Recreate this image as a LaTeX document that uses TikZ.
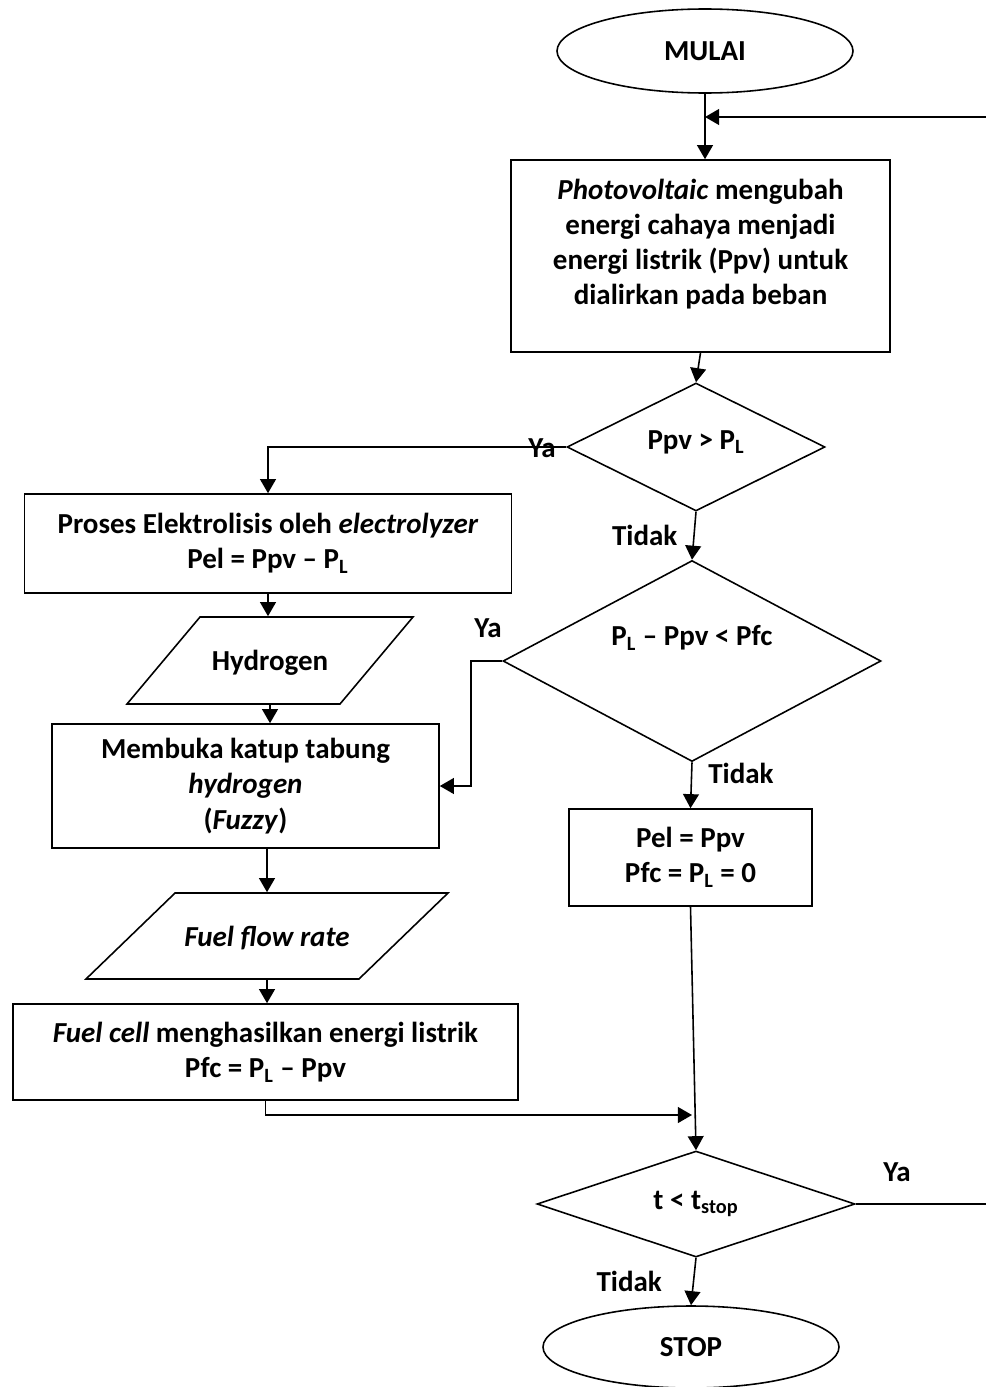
\documentclass[tikz,border=0pt]{standalone}
\usepackage{fontspec}
\setmainfont{Carlito}
\usetikzlibrary{shapes.geometric}
\usetikzlibrary{arrows.meta}

\tikzset{
    terminal/.style={draw, ellipse, inner sep=0pt},
    proses/.style={draw, rectangle, align=center},
    keputusan/.style={draw, diamond, aspect=2, inner sep=1pt, align=center},
    data/.style={draw, trapezium, trapezium stretches body, inner xsep=0pt,
	text height=0.5cm, text depth=0.1cm},
}

\begin{document}
\begin{tikzpicture}[>={Triangle[length=8pt,width=9pt]}, line width=0.9pt,
    every node/.style={font=\fontsize{16.5}{20}\selectfont\bfseries}]
    \useasboundingbox (0, 0) rectangle (19.72, -27.74);

    \path (14.10, -1.02) node [terminal, minimum width=5.92cm, minimum height=1.68cm] (mulai) {MULAI};
    \path (14.01, -5.12) node [proses, minimum width=7.58cm, minimum height=3.84cm] (pv)
	{\textit{Photovoltaic} mengubah\\ energi cahaya menjadi\\ energi listrik (Ppv) untuk\\ dialirkan pada beban\\[-4pt]\mbox{}};
    \draw [->] (mulai) -- (mulai |- pv.north);
    \coordinate (balik) at (14.10, -2.34);
    \coordinate (kanan) at (19.80, -2.34);

    \path (13.92, -8.94) node [keputusan, minimum width=5.16cm, minimum height=2.56cm] (cek1)
	{Ppv > P\textsubscript{L}\\[-12pt]\mbox{}};
    \draw [->] (pv.south) -- (cek1.north);
    \path (5.36, -10.87) node [proses, minimum width=9.74cm, minimum height=1.98cm] (el)
	{Proses Elektrolisis oleh \textit{electrolyzer}\\ Pel = Ppv – P\textsubscript{L}};
    \draw [->] (cek1.west) -| (el.north);
    \path (10.84, -8.96) node (ya1) {Ya};

    \path (5.40, -13.21) node [data, inner ysep=0.57cm, trapezium left angle=50,
	trapezium right angle=130, minimum width=5.72cm] (hy) {Hydrogen};
    \draw [->] (el.south) -- (el.south |- hy.north);
    \path (4.91, -15.72) node [proses, minimum width=7.74cm, minimum height=2.48cm] (katup)
	{Membuka katup tabung\\ \textit{hydrogen}\\ (\textit{Fuzzy})};
    \draw [->] (hy.south) -- (hy.south |- katup.north);
    \path (5.34, -18.72) node [data, inner ysep=0.56cm, trapezium left angle=44,
	trapezium right angle=136, minimum width=7.24cm] (ffr) {\textit{Fuel flow rate}};
    \draw [->] (katup.south -| ffr.north) -- (ffr.north);
    \path (5.31, -21.04) node [proses, minimum width=10.10cm, minimum height=1.92cm] (fc)
	{\textit{Fuel cell} menghasilkan energi listrik\\ Pfc = P\textsubscript{L} – Ppv};
    \draw [->] (ffr.south) -- (ffr.south |- fc.north);

    \path (13.84, -13.22) node [keputusan, minimum width=7.56cm, minimum height=4.02cm] (cek2)
	{P\textsubscript{L} – Ppv < Pfc\\[9pt]\mbox{}};
    \draw [->] (cek1.south) -- (cek2.north) node [midway,left=0.2cm] (tidak1) {Tidak};
    \draw [->] (cek2.west) -- ++(-0.62, 0) |- (katup.east);
    \path (9.76, -12.56) node (ya2) {Ya};
    \path (13.81, -17.15) node [proses, minimum width=4.86cm, minimum height=1.94cm] (nol)
	{Pel = Ppv\\ Pfc = P\textsubscript{L} = 0};
    \draw [->] (cek2.south) -- (nol.north) node [pos=0.25,right=0.2cm] (tidak2) {Tidak};

    \path (13.92, -24.08) node [keputusan, minimum width=6.36cm, minimum height=2.12cm] (cek3)
	{t < t\textsubscript{stop}};
    \draw [->] (nol.south) -- (cek3.north);
    \coordinate (gabung) at (13.84, -22.30);
    \draw [->] (fc.south) |- (gabung);
    \draw [->] (cek3.east) -| (kanan) -- (balik);
    \path (17.94, -23.44) node (ya3) {Ya};
    \path (13.82, -26.94) node [terminal, minimum width=5.92cm, minimum height=1.64cm] (stop) {STOP};
    \draw [->] (cek3.south) -- (stop.north) node [midway,left=0.5cm] (tidak3) {Tidak};
\end{tikzpicture}
\end{document}
